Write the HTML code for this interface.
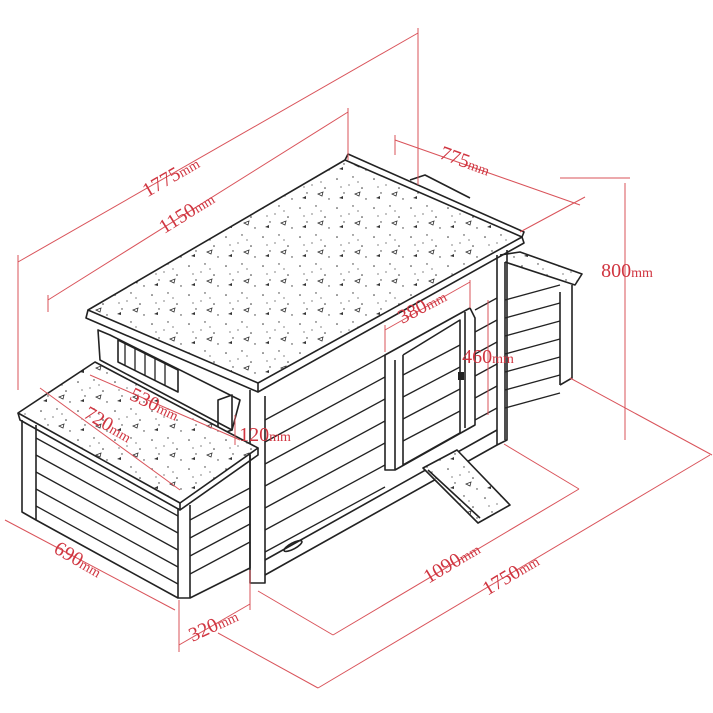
<!DOCTYPE html>
<html><head><meta charset="utf-8"><style>
html,body{margin:0;padding:0;background:#fff}
svg{display:block}
.k{fill:none;stroke:#222;stroke-width:1.6;stroke-linejoin:round}
.t{stroke:#222;stroke-width:1.3}
.r{stroke:#d9535a;stroke-width:1;fill:none}
text{font-family:"Liberation Serif",serif;fill:#d03540;font-size:20px}
tspan.m{font-size:14px}
</style></head><body>
<svg width="713" height="713" viewBox="0 0 713 713" xmlns="http://www.w3.org/2000/svg">
<defs>
<pattern id="sp" width="37" height="29" patternUnits="userSpaceOnUse">
<rect width="37" height="29" fill="#fff"/>
<circle cx="4" cy="5" r="0.8" fill="#333"/><circle cx="20" cy="3" r="0.7" fill="#333"/>
<circle cx="29" cy="14" r="0.8" fill="#333"/><circle cx="11" cy="19" r="0.7" fill="#333"/>
<circle cx="33" cy="25" r="0.7" fill="#333"/><circle cx="16" cy="11" r="0.6" fill="#333"/>
<circle cx="8" cy="13" r="0.6" fill="#333"/><circle cx="25" cy="8" r="0.6" fill="#333"/>
<path d="M22 20 l5 -2 l-1 4z" fill="none" stroke="#333" stroke-width="0.8"/>
<path d="M6 24 l4 -2 l0 3z" fill="#333"/>
</pattern>
</defs>

<!-- right box behind -->
<path class="k" style="fill:url(#sp)" d="M500 255 L520 252 L582 274 L575 285 L505 262"/>
<path class="k" d="M505 262 L505 440 M560 292 L560 385 M572 285 L572 378 L560 385"/>
<g class="t"><line x1="505" y1="300" x2="560" y2="285"/><line x1="505" y1="318" x2="560" y2="303"/><line x1="505" y1="336" x2="560" y2="321"/><line x1="505" y1="354" x2="560" y2="339"/><line x1="505" y1="372" x2="560" y2="357"/><line x1="505" y1="390" x2="560" y2="375"/><line x1="505" y1="408" x2="560" y2="393"/></g>
<path class="k" d="M410 180 L425 175 L470 198"/>

<!-- main roof -->
<path class="k" style="fill:url(#sp)" d="M88 310 L345 160 L522 237 L258 383 Z"/>
<path class="k" d="M345 160 L348 154 L524 232 L522 237 M88 310 L86 318 L258 392 L258 383 M258 392 L524 243 L522 237"/>
<!-- main front -->
<path class="k" d="M250 390 L250 583 L265 583 L265 396 M497 255 L497 445 L507 440 L507 250"/>
<g class="t">
<line x1="265" y1="420" x2="385" y2="355"/><line x1="265" y1="442" x2="385" y2="377"/><line x1="265" y1="464" x2="385" y2="399"/><line x1="265" y1="486" x2="385" y2="421"/><line x1="265" y1="508" x2="385" y2="443"/><line x1="265" y1="530" x2="385" y2="465"/><line x1="265" y1="552" x2="385" y2="487"/>
<line x1="475" y1="310" x2="497" y2="298"/><line x1="475" y1="332" x2="497" y2="320"/><line x1="475" y1="354" x2="497" y2="342"/><line x1="475" y1="376" x2="497" y2="364"/><line x1="475" y1="398" x2="497" y2="386"/><line x1="475" y1="420" x2="497" y2="408"/>
<line x1="403" y1="375" x2="460" y2="345"/><line x1="403" y1="397" x2="460" y2="367"/><line x1="403" y1="419" x2="460" y2="389"/><line x1="403" y1="441" x2="460" y2="411"/>
</g>
<path class="k" d="M265 560 L497 430 M265 575 L497 445"/>
<!-- door -->
<path class="k" d="M385 355 L470 308 L475 318 L475 425 L395 470 L385 470 Z M395 360 L395 470 M403 355 L403 465 L460 433 L460 320 L403 355 M465 312 L465 428"/>
<rect x="458" y="372" width="6" height="8" fill="#222"/>
<ellipse cx="293" cy="546" rx="10" ry="3" class="k" transform="rotate(-28 293 546)"/>
<!-- ramp -->
<path class="k" style="fill:url(#sp)" d="M423 468 L457 450 L510 505 L478 523 Z"/>
<path class="k" d="M428 470 L480 518"/>
<!-- vent block -->
<path class="k" d="M98 330 L100 360 L232 430 L240 400 L110 335 Z M118 340 L118 362 L178 392 L178 370 Z"/>
<g class="t"><line x1="125" y1="344" x2="125" y2="366"/><line x1="135" y1="349" x2="135" y2="371"/><line x1="145" y1="354" x2="145" y2="376"/><line x1="155" y1="359" x2="155" y2="381"/><line x1="165" y1="364" x2="165" y2="386"/></g>
<path class="k" d="M218 400 L232 395 L232 430 L218 435 Z"/>

<!-- left box -->
<path class="k" style="fill:url(#sp)" d="M18 413 L95 362 L258 448 L180 503 Z"/>
<path class="k" d="M18 413 L20 420 L180 510 L180 503 M180 510 L258 455 L258 448"/>
<path class="k" d="M22 420 L22 512 L36 520 L36 425 M178 508 L178 598 L190 598 L190 505 M250 455 L250 568 L190 598 M36 520 L178 598"/>
<g class="t">
<line x1="36" y1="438" x2="178" y2="516"/><line x1="36" y1="455" x2="178" y2="533"/><line x1="36" y1="472" x2="178" y2="550"/><line x1="36" y1="489" x2="178" y2="567"/><line x1="36" y1="506" x2="178" y2="584"/>
<line x1="190" y1="520" x2="250" y2="488"/><line x1="190" y1="538" x2="250" y2="506"/><line x1="190" y1="556" x2="250" y2="524"/><line x1="190" y1="574" x2="250" y2="542"/>
</g>

<!-- dimension lines -->
<g class="r">
<line x1="18" y1="262" x2="418" y2="33"/><line x1="18" y1="255" x2="18" y2="390"/><line x1="418" y1="28" x2="418" y2="185"/>
<line x1="48" y1="300" x2="348" y2="112"/><line x1="48" y1="295" x2="48" y2="312"/><line x1="348" y1="108" x2="348" y2="160"/>
<line x1="395" y1="140" x2="580" y2="205"/><line x1="395" y1="135" x2="395" y2="155"/><line x1="520" y1="232" x2="585" y2="197"/>
<line x1="625" y1="183" x2="625" y2="440"/><line x1="560" y1="178" x2="630" y2="178"/><line x1="570" y1="378" x2="712" y2="455"/>
<line x1="385" y1="330" x2="470" y2="282"/><line x1="385" y1="325" x2="385" y2="352"/><line x1="470" y1="280" x2="470" y2="308"/>
<line x1="488" y1="300" x2="488" y2="415"/>
<line x1="90" y1="375" x2="240" y2="440"/><line x1="40" y1="388" x2="180" y2="490"/>
<line x1="235" y1="415" x2="235" y2="445"/>
<line x1="5" y1="520" x2="175" y2="610"/>
<line x1="179" y1="600" x2="179" y2="652"/><line x1="179" y1="645" x2="250" y2="604"/><line x1="250" y1="570" x2="250" y2="610"/>
<line x1="258" y1="591" x2="333" y2="635"/><line x1="333" y1="635" x2="579" y2="489"/><line x1="504" y1="444" x2="579" y2="489"/>
<line x1="218" y1="633" x2="318" y2="688"/><line x1="318" y1="688" x2="710" y2="455"/>
</g>
<g stroke="none" text-anchor="middle">
<text transform="translate(174,182) rotate(-30)">1775<tspan class="m">mm</tspan></text>
<text transform="translate(190,218) rotate(-32)">1150<tspan class="m">mm</tspan></text>
<text transform="translate(463,167) rotate(20)">775<tspan class="m">mm</tspan></text>
<text x="627" y="277">800<tspan class="m">mm</tspan></text>
<text transform="translate(425,312) rotate(-28)">380<tspan class="m">mm</tspan></text>
<text x="488" y="363">460<tspan class="m">mm</tspan></text>
<text transform="translate(152,410) rotate(25)">530<tspan class="m">mm</tspan></text>
<text transform="translate(105,430) rotate(30)">720<tspan class="m">mm</tspan></text>
<text x="265" y="441">120<tspan class="m">mm</tspan></text>
<text transform="translate(75,565) rotate(30)">690<tspan class="m">mm</tspan></text>
<text transform="translate(216,631) rotate(-25)">320<tspan class="m">mm</tspan></text>
<text transform="translate(455,568) rotate(-31)">1090<tspan class="m">mm</tspan></text>
<text transform="translate(514,580) rotate(-31)">1750<tspan class="m">mm</tspan></text>
</g>
</svg>
</body></html>
